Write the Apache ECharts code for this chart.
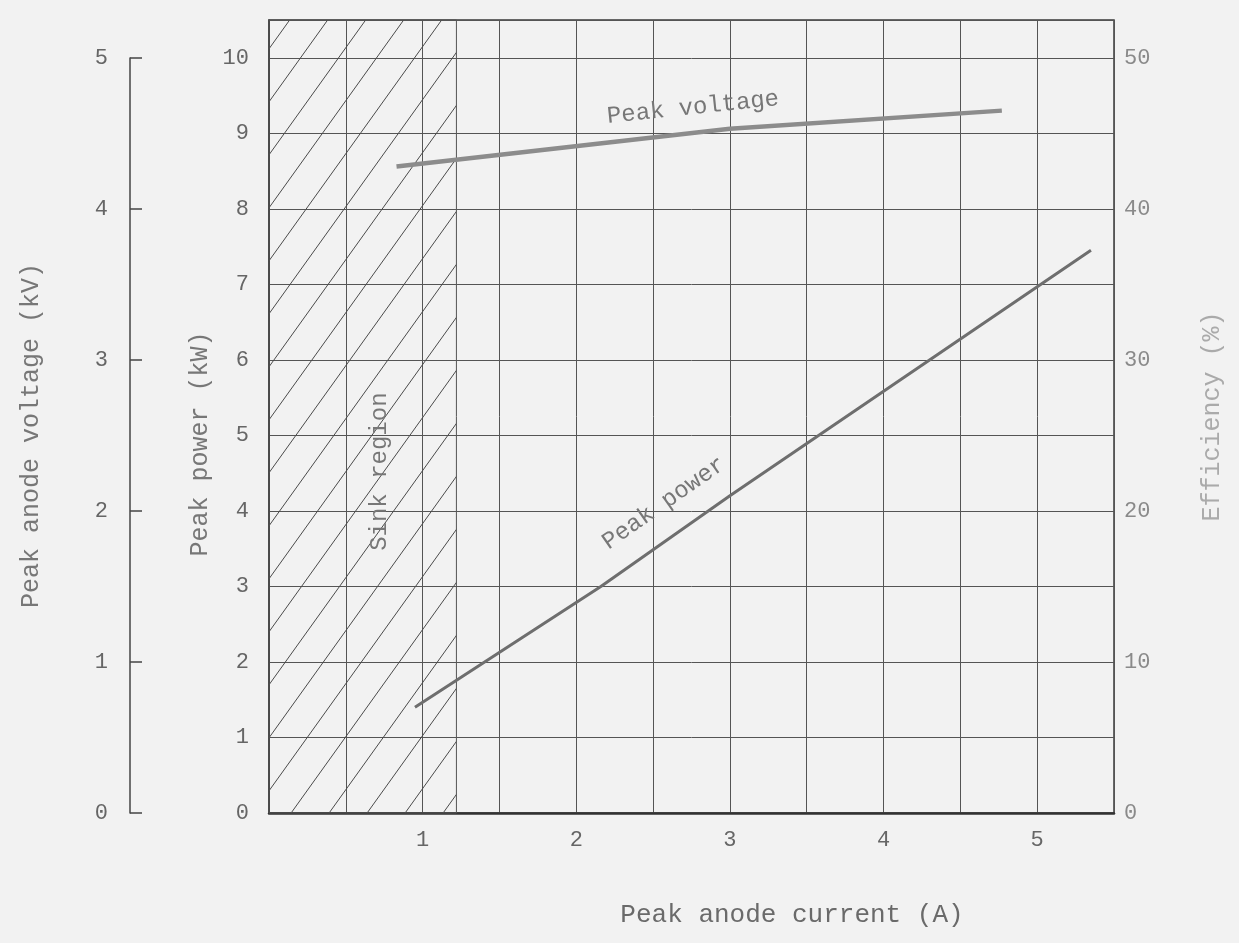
<!DOCTYPE html>
<html>
<head>
<meta charset="utf-8">
<script src="https://cdn.jsdelivr.net/npm/echarts@6/dist/echarts.min.js"></script>
<style>
  html, body { margin: 0; padding: 0; background: #f2f2f2; }
  #chart { width: 1239px; height: 943px; }
</style>
</head>
<body>
<div id="chart"></div>
<script>
// ---- data ----
const currentPower = [0.95, 2.16, 3.0, 5.35];      // A
const peakPowerKW = [1.40, 3.0, 4.2, 7.45];        // kW
const currentVoltage = [0.83, 3.0, 4.77];          // A
const peakVoltageKV = [4.28, 4.53, 4.65];          // kV
const sinkRegionCurrent = [0, 1.22];               // A
const sinkRegionPower = [0, 10.5];                 // kW
const xTickLabels = ['1', '2', '3', '4', '5'];
const powerTickLabels = ['0', '1', '2', '3', '4', '5', '6', '7', '8', '9', '10'];
const voltageTickLabels = ['0', '1', '2', '3', '4', '5'];
const efficiencyTickLabels = ['0', '10', '20', '30', '40', '50'];

const FONT = '"Liberation Mono", "DejaVu Sans Mono", monospace';

// hatch pattern for the sink region
function hatchPattern() {
  const w = 38, h = 53;
  const c = document.createElement('canvas');
  c.width = w; c.height = h;
  const g = c.getContext('2d');
  g.strokeStyle = '#4a4a4a';
  g.lineWidth = 1;
  for (let k = -1; k <= 1; k++) {
    g.beginPath();
    g.moveTo(k * w, h);
    g.lineTo(k * w + w, 0);
    g.stroke();
  }
  return c;
}

const chart = echarts.init(document.getElementById('chart'), null, { renderer: 'canvas' });

const option = {
  backgroundColor: '#f2f2f2',
  animation: false,
  grid: [
    { left: 269, right: 125, top: 20, bottom: 130, show: true, borderColor: '#3a3a3a', borderWidth: 1.5, backgroundColor: 'transparent' },
    { left: 130, right: 1108, top: 58, bottom: 130, show: false }
  ],
  xAxis: [
    {
      type: 'value', gridIndex: 0, min: 0, max: 5.5, interval: 0.5,
      axisLine: { show: true, lineStyle: { color: '#333', width: 2.5 } },
      axisTick: { show: false },
      axisLabel: {
        margin: 16, color: '#666', fontFamily: FONT, fontSize: 22,
        formatter: v => (xTickLabels.includes(String(v)) ? String(v) : '')
      },
      splitLine: { show: true, lineStyle: { color: '#555', width: 1 } }
    },
    { type: 'value', gridIndex: 1, min: 0, max: 1, show: false }
  ],
  yAxis: [
    {
      // Peak power (kW)
      type: 'value', gridIndex: 0, position: 'left', min: 0, max: 10.5, interval: 1,
      axisLine: { show: true, lineStyle: { color: '#3a3a3a', width: 1.5 } },
      axisTick: { show: false },
      axisLabel: {
        margin: 20, color: '#666', fontFamily: FONT, fontSize: 22,
        formatter: v => (powerTickLabels.includes(String(v)) ? String(v) : '')
      },
      splitLine: { show: true, lineStyle: { color: '#555', width: 1 } }
    },
    {
      // Peak anode voltage (kV) scale used by the voltage curve
      type: 'value', gridIndex: 0, position: 'left', min: 0, max: 5.25,
      show: false, splitLine: { show: false }
    },
    {
      // visible peak anode voltage axis (bracket 0..5)
      type: 'value', gridIndex: 1, position: 'left', min: 0, max: 5, interval: 1,
      name: 'Peak anode voltage (kV)', nameLocation: 'middle', nameGap: 86, nameRotate: 90,
      nameTextStyle: { color: '#777', fontFamily: FONT, fontSize: 25 },
      axisLine: { show: true, lineStyle: { color: '#444', width: 1.5 } },
      axisTick: { show: true, inside: true, length: 12, lineStyle: { color: '#444', width: 1.5 } },
      axisLabel: {
        margin: 22, color: '#666', fontFamily: FONT, fontSize: 22,
        formatter: v => (voltageTickLabels.includes(String(v)) ? String(v) : '')
      },
      splitLine: { show: false }
    },
    {
      // Efficiency (%)
      type: 'value', gridIndex: 0, position: 'right', min: 0, max: 52.5, interval: 10,
      name: 'Efficiency (%)', nameLocation: 'middle', nameGap: 86, nameRotate: 90,
      nameTextStyle: { color: '#aaa', fontFamily: FONT, fontSize: 25 },
      axisLine: { show: false },
      axisTick: { show: false },
      axisLabel: {
        margin: 10, color: '#8a8a8a', fontFamily: FONT, fontSize: 22,
        formatter: v => (efficiencyTickLabels.includes(String(v)) ? String(v) : '')
      },
      splitLine: { show: false }
    }
  ],
  series: [
    {
      name: 'Peak power', type: 'line', xAxisIndex: 0, yAxisIndex: 0,
      data: currentPower.map((x, i) => [x, peakPowerKW[i]]),
      symbol: 'none', z: 5,
      lineStyle: { color: '#6e6e6e', width: 3 },
      markArea: {
        silent: true,
        itemStyle: {
          color: { image: hatchPattern(), repeat: 'repeat' },
          borderColor: '#555', borderWidth: 1
        },
        data: [[
          { xAxis: sinkRegionCurrent[0], yAxis: sinkRegionPower[0] },
          { xAxis: sinkRegionCurrent[1], yAxis: sinkRegionPower[1] }
        ]]
      },
      markPoint: {
        silent: true, symbol: 'rect', symbolSize: 1,
        itemStyle: { color: 'rgba(0,0,0,0)' },
        data: [
          {
            coord: [0.72, 4.52],
            label: { show: true, position: 'inside', formatter: 'Sink region', rotate: 90, color: '#777', fontFamily: FONT, fontSize: 24 }
          },
          {
            coord: [2.57, 4.1],
            label: { show: true, position: 'inside', formatter: 'Peak power', rotate: 35, color: '#777', fontFamily: FONT, fontSize: 24 }
          }
        ]
      }
    },
    {
      name: 'Peak voltage', type: 'line', xAxisIndex: 0, yAxisIndex: 1,
      data: currentVoltage.map((x, i) => [x, peakVoltageKV[i]]),
      symbol: 'none', z: 5,
      lineStyle: { color: '#8c8c8c', width: 4.5 },
      markPoint: {
        silent: true, symbol: 'rect', symbolSize: 1,
        itemStyle: { color: 'rgba(0,0,0,0)' },
        data: [
          {
            coord: [2.76, 4.67],
            label: { show: true, position: 'inside', formatter: 'Peak voltage', rotate: 6, color: '#777', fontFamily: FONT, fontSize: 24 }
          }
        ]
      }
    }
  ],
  graphic: [
    {
      type: 'text', x: 200, y: 444, rotation: Math.PI / 2,
      style: { text: 'Peak power (kW)', font: '25px ' + FONT, fill: '#777', textAlign: 'center', textVerticalAlign: 'middle' }
    },
    {
      type: 'text', x: 792, y: 915,
      style: { text: 'Peak anode current (A)', font: '26px ' + FONT, fill: '#6a6a6a', textAlign: 'center', textVerticalAlign: 'middle' }
    }
  ]
};

chart.setOption(option);
</script>
</body>
</html>
